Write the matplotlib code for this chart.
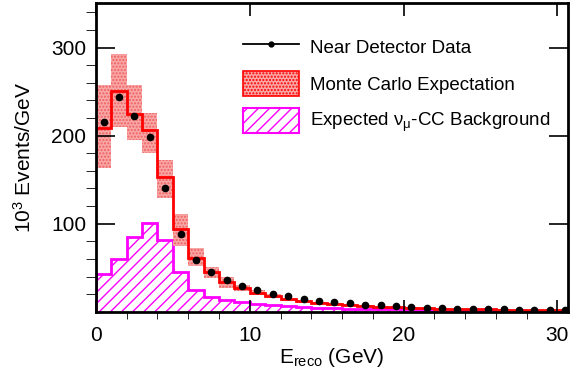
import matplotlib.pyplot as plt
from matplotlib.lines import Line2D
from matplotlib.patches import Patch
import numpy as np

plt.rcParams['font.family'] = ['Liberation Sans', 'DejaVu Sans']
plt.rcParams['mathtext.fontset'] = 'custom'
plt.rcParams['mathtext.rm'] = 'Liberation Sans'
plt.rcParams['mathtext.it'] = 'Liberation Sans:italic'
plt.rcParams['hatch.linewidth'] = 1.0

# 1 GeV bins from 0 to 31 GeV
edges = np.arange(0, 32, 1.0)

# near detector data (10^3 events / GeV)
data = [215, 244, 222, 198, 141, 88.6, 59.4, 45, 36, 29.9, 25, 20.8, 17.8, 15.1,
        12.8, 11.3, 9.8, 8.3, 7.5, 6.4, 5.7, 4.9, 4.1, 3.7, 3.4, 3.2, 2.9, 2.6,
        2.3, 2.0, 1.8]

# monte carlo expectation and its systematic band
mc = [209, 251, 225, 206, 153, 94, 61, 45, 34, 27.5, 21.8, 17.8, 14.3, 11.8,
      10.0, 8.8, 7.7, 6.8, 6.0, 5.3, 4.7, 4.2, 3.7, 3.3, 3.0, 2.7, 2.4, 2.2,
      2.0, 1.8, 1.6]
mc_hi = [257, 293, 258, 226, 172, 110.6, 72, 50.7, 40, 31, 24.5, 20, 16, 13.2,
         11.2, 9.8, 8.6, 7.6, 6.7, 5.9, 5.2, 4.6, 4.1, 3.6, 3.3, 3.0, 2.7, 2.4,
         2.2, 2.0, 1.8]
mc_lo = [163, 210, 195, 180, 129, 74.5, 52, 38.6, 27, 23.5, 19, 15.6, 12.6, 10.4,
         8.8, 7.8, 6.8, 6.0, 5.3, 4.7, 4.2, 3.8, 3.3, 3.0, 2.7, 2.4, 2.1, 2.0,
         1.8, 1.6, 1.4]

# expected nu_mu CC background
bkg = [42.4, 60.2, 85.2, 101, 81, 45.5, 25.3, 17.4, 13.2, 11.4, 9.0, 7.8, 6.6,
       5.6, 4.8, 4.2, 3.7, 3.3, 3.0, 2.7, 2.4, 2.2, 2.0, 1.8, 1.6, 1.5, 1.4,
       1.3, 1.2, 1.1, 1.0]

fig = plt.figure(figsize=(5.78, 3.85), dpi=100)
ax = fig.add_axes([0.166, 0.190, 0.817, 0.801])

centers = 0.5 * (edges[:-1] + edges[1:])
widths = np.diff(edges)
mc_hi = np.array(mc_hi)
mc_lo = np.array(mc_lo)

# background: hatched fill + outline
ax.stairs(bkg, edges, fill=True, facecolor='none', edgecolor='magenta',
          hatch='///', linewidth=0)
ax.stairs(bkg, edges, color='magenta', linewidth=2)

# mc band
ax.bar(edges[:-1], mc_hi - mc_lo, bottom=mc_lo, width=widths, align='edge',
       color='#f8a6a6', edgecolor='#f06060', hatch='.....', linewidth=0)
ax.stairs(mc, edges, color='red', linewidth=2, baseline=None)

# data
ax.plot(centers, data, 'o', color='black', markersize=4.5)

ax.set_xlim(0, 30.7)
ax.set_ylim(0, 350)
ax.set_xticks([0, 10, 20, 30])
ax.set_xticks(np.arange(0, 31, 2), minor=True)
ax.set_yticks([100, 200, 300])
ax.set_yticks(np.arange(20, 350, 20), minor=True)
ax.tick_params(direction='in', top=True, right=True, labelsize=15, width=1.2)
ax.tick_params(axis='y', which='major', length=14, pad=7)
ax.tick_params(axis='y', which='minor', length=7)
ax.tick_params(axis='x', which='major', length=9, pad=10)
ax.tick_params(axis='x', which='minor', length=5)
for s in ax.spines.values():
    s.set_linewidth(2)

ax.set_xlabel(r'E$_{\mathregular{reco}}$ (GeV)', fontsize=15, labelpad=1)
ax.set_ylabel(r'10$^{\mathregular{3}}$ Events/GeV', fontsize=15, labelpad=12)

handles = [
    Line2D([0], [0], color='black', marker='o', markersize=3.5, linewidth=1.3),
    Patch(facecolor='#f8a6a6', edgecolor='red', hatch='.....', linewidth=1.2),
    Patch(facecolor='white', edgecolor='magenta', hatch='///', linewidth=1.5),
]
labels = ['Near Detector Data', 'Monte Carlo Expectation',
          r'Expected ν$_{\mathregular{\mu}}$-CC Background']
ax.legend(handles, labels, loc='upper left', bbox_to_anchor=(0.292, 0.93),
          frameon=False, fontsize=13.5, handlelength=3.0, handleheight=1.7,
          labelspacing=0.6, borderpad=0, handletextpad=0.55)

fig.savefig('out.png', dpi=100)
